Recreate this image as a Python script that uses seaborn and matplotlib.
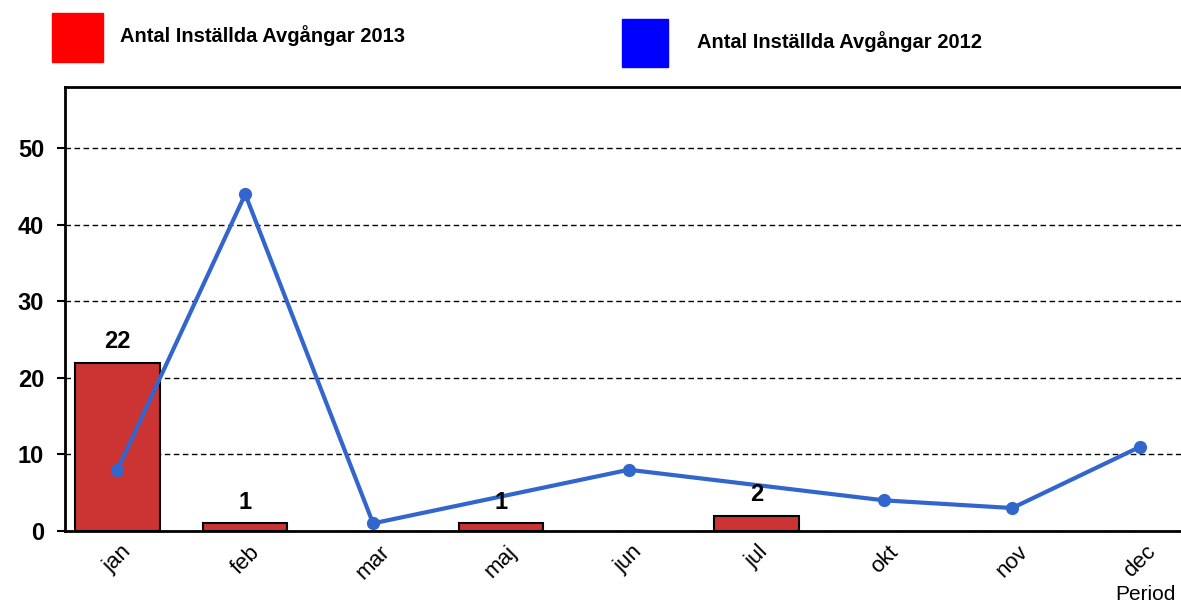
import numpy as np
import pandas as pd
import matplotlib
matplotlib.use("Agg")
import matplotlib.pyplot as plt
from matplotlib.patches import Rectangle
import seaborn as sns

# Data
months = ['jan', 'feb', 'mar', 'maj', 'jun', 'jul', 'okt', 'nov', 'dec']
avg_2013 = [22, 1, np.nan, 1, np.nan, 2, np.nan, np.nan, np.nan]
avg_2012 = [8, 44, 1, np.nan, 8, np.nan, 4, 3, 11]
yticks = [0, 10, 20, 30, 40, 50]

sns.set_style('white')
plt.rcParams['font.family'] = ['Liberation Sans', 'DejaVu Sans']
plt.rcParams['text.color'] = 'black'
plt.rcParams['xtick.color'] = 'black'
plt.rcParams['ytick.color'] = 'black'

df = pd.DataFrame({'month': months, 'y2013': avg_2013, 'y2012': avg_2012,
                   'pos': np.arange(len(months))})

fig = plt.figure(figsize=(11.81, 6.05), dpi=100)
ax = fig.add_axes([65 / 1181, 74 / 605, 1 - 65 / 1181, 444 / 605])

sns.barplot(data=df, x='month', y='y2013', order=months, color='#CC3333',
            edgecolor='black', linewidth=1.5, width=0.66, saturation=1, ax=ax)
sns.lineplot(data=df.dropna(subset=['y2012']), x='pos', y='y2012', color='#3366CC',
             linewidth=3, marker='o', markersize=9.5, markeredgewidth=0, ax=ax)

# value labels on the bars
for i, v in enumerate(avg_2013):
    if not np.isnan(v):
        ax.annotate(f"{v:g}", (i, v), xytext=(0, 7), textcoords='offset points',
                    ha='center', va='bottom', fontsize=17, fontweight='bold')

ax.set_xlim(-0.41, 8.32)
ax.set_ylim(0, 58)
ax.set_yticks(yticks)
ax.set_yticklabels([str(t) for t in yticks], fontsize=17, fontweight='bold')
ax.set_xticks(range(len(months)))
ax.set_xticklabels(months, rotation=45, ha='center', fontsize=16)
ax.tick_params(axis='y', left=True, length=6, width=1.5, color='black', pad=9)
ax.tick_params(axis='x', bottom=False, pad=4)
ax.set_xlabel('')
ax.set_ylabel('')
ax.set_axisbelow(True)
ax.yaxis.grid(True, linestyle=(0, (4, 2.5)), color='black', linewidth=1)
for s in ax.spines.values():
    s.set_color('black')
    s.set_linewidth(2)
ax.spines['right'].set_visible(False)

# legend boxes
fig.patches.append(Rectangle((52 / 1181, 1 - 62 / 605), 51 / 1181, 49 / 605,
                             transform=fig.transFigure, color='#FF0000'))
fig.text(120 / 1181, 1 - 36 / 605, 'Antal Inställda Avgångar 2013', fontsize=14.5,
         fontweight='bold', va='center')
fig.patches.append(Rectangle((622 / 1181, 1 - 67 / 605), 46 / 1181, 48 / 605,
                             transform=fig.transFigure, color='#0000FF'))
fig.text(697 / 1181, 1 - 42 / 605, 'Antal Inställda Avgångar 2012', fontsize=14.5,
         fontweight='bold', va='center')

fig.text(1176 / 1181, 1 - 595 / 605, 'Period', fontsize=15, ha='right', va='center')

fig.savefig('out.png', dpi=100)
